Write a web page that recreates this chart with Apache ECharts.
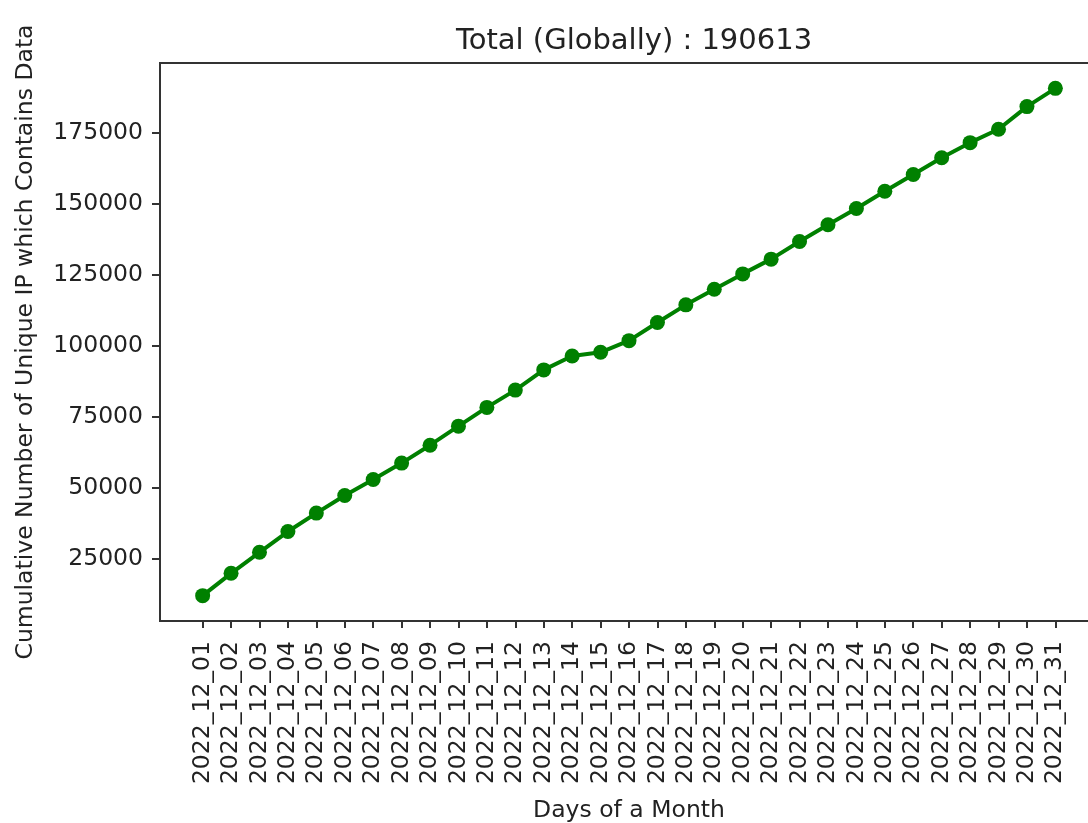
<!DOCTYPE html>
<html>
<head>
<meta charset="utf-8">
<script src="https://cdn.jsdelivr.net/npm/echarts@6/dist/echarts.min.js"></script>
<style>
html,body{margin:0;padding:0;background:#fff;}
#chart{width:1088px;height:823px;}
</style>
</head>
<body>
<div id="chart"></div>
<script>
const categories = [
  "2022_12_01","2022_12_02","2022_12_03","2022_12_04","2022_12_05","2022_12_06","2022_12_07","2022_12_08",
  "2022_12_09","2022_12_10","2022_12_11","2022_12_12","2022_12_13","2022_12_14","2022_12_15","2022_12_16",
  "2022_12_17","2022_12_18","2022_12_19","2022_12_20","2022_12_21","2022_12_22","2022_12_23","2022_12_24",
  "2022_12_25","2022_12_26","2022_12_27","2022_12_28","2022_12_29","2022_12_30","2022_12_31"
];
const cumulativeIPs = [
  12040, 19900, 27300, 34600, 41100, 47300, 52900, 58700,
  65000, 71700, 78300, 84400, 91500, 96400, 97700, 101800,
  108200, 114400, 119900, 125300, 130500, 136700, 142600, 148300,
  154400, 160300, 166200, 171500, 176200, 184200, 190613
];
const yTicks = [25000, 50000, 75000, 100000, 125000, 150000, 175000];
const titleText = "Total (Globally) : 190613";
const xName = "Days of a Month";
const yName = "Cumulative Number of Unique IP which Contains Data";

const font = "DejaVu Sans";
const dMin = Math.min(...cumulativeIPs), dMax = Math.max(...cumulativeIPs);
const pad = (dMax - dMin) * 0.05;
const xIdx = categories.map((c, i) => i);

const chart = echarts.init(document.getElementById('chart'), null, {renderer: 'canvas'});
chart.setOption({
  backgroundColor: '#ffffff',
  animation: false,
  title: {
    text: titleText,
    left: 629, top: 22,
    textAlign: 'center',
    textStyle: {fontFamily: font, fontSize: 29, fontWeight: 'normal', color: '#222'}
  },
  grid: {
    left: 160, top: 63, width: 938, height: 558,
    containLabel: false, outerBoundsMode: 'none',
    show: true, borderColor: '#333', borderWidth: 2, backgroundColor: 'transparent'
  },
  xAxis: {
    type: 'value', min: -1.5, max: 31.5,
    name: xName, nameLocation: 'middle', nameGap: 178,
    nameTextStyle: {fontFamily: font, fontSize: 23.5, color: '#222'},
    axisLine: {show: true, onZero: false, lineStyle: {color: '#333', width: 2}},
    axisTick: {show: true, length: 7, customValues: xIdx, lineStyle: {color: '#333', width: 2}},
    axisLabel: {
      customValues: xIdx, rotate: 90, margin: 20,
      fontFamily: font, fontSize: 23.5, color: '#222',
      formatter: v => categories[Math.round(v)] || ''
    },
    splitLine: {show: false}
  },
  yAxis: {
    type: 'value', min: dMin - pad, max: dMax + pad,
    name: yName, nameLocation: 'middle', nameGap: 122,
    nameTextStyle: {fontFamily: font, fontSize: 23.5, color: '#222'},
    axisLine: {show: true, onZero: false, lineStyle: {color: '#333', width: 2}},
    axisTick: {show: true, length: 8, customValues: yTicks, lineStyle: {color: '#333', width: 2}},
    axisLabel: {
      customValues: yTicks, margin: 17, fontFamily: font, fontSize: 23.5, color: '#222',
      formatter: v => String(Math.round(v))
    },
    splitLine: {show: false}
  },
  series: [{
    type: 'line',
    data: cumulativeIPs.map((v, i) => [i, v]),
    symbol: 'circle', symbolSize: 15,
    lineStyle: {color: '#008000', width: 4},
    itemStyle: {color: '#008000'},
    clip: false
  }]
});
</script>
</body>
</html>
